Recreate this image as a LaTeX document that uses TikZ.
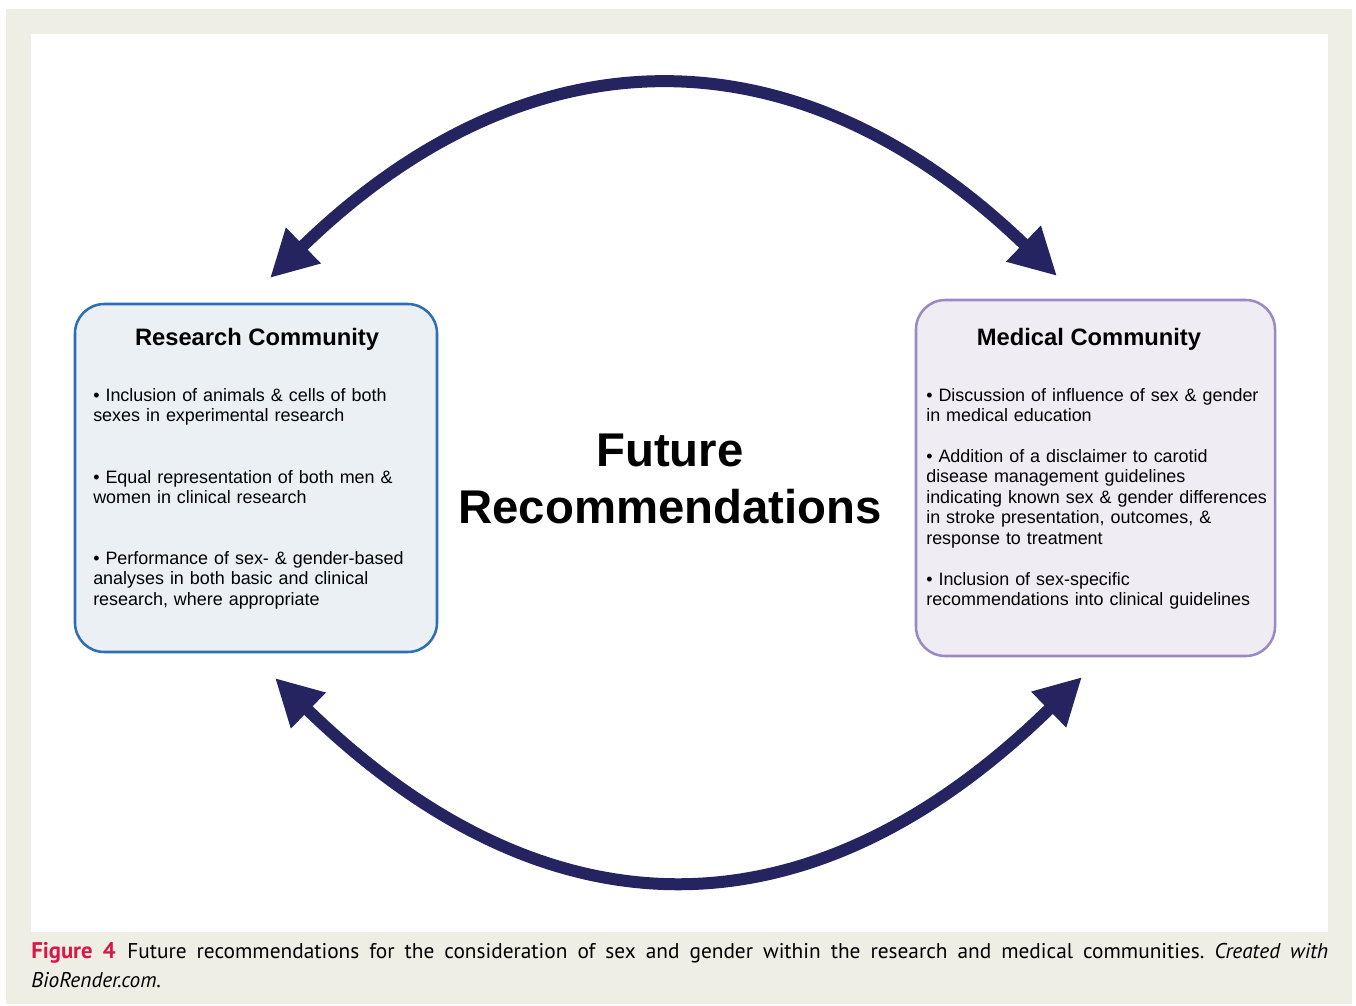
\documentclass[tikz,border=0pt]{standalone}
\usepackage{fontspec}
\setmainfont{Liberation Sans}
\newfontfamily\capfont{PT Sans}
\usetikzlibrary{arrows.meta}

\definecolor{pagebeige}{RGB}{239,238,228}
\definecolor{arrownavy}{RGB}{38,36,96}
\definecolor{resline}{RGB}{46,110,182}
\definecolor{resfill}{RGB}{235,240,244}
\definecolor{medline}{RGB}{156,136,196}
\definecolor{medfill}{RGB}{239,237,243}
\definecolor{figred}{RGB}{218,22,72}

\tikzset{
  commbox/.style={rounded corners=22pt, line width=1.9pt, inner sep=0pt},
  boxtitle/.style={font=\bfseries\fontsize{17.8}{21}\selectfont, inner sep=0pt, anchor=base},
  bullettext/.style={font=\fontsize{13.45}{15.4}\selectfont, inner sep=0pt, anchor=base west,
                     text width=270pt, align=left},
  cyclearrow/.style={line width=9pt, draw=arrownavy,
                     {Triangle[length=35pt,width=35pt]}-{Triangle[length=35pt,width=35pt]}},
}

\begin{document}
\frenchspacing
\begin{tikzpicture}[x=0.75pt,y=-0.75pt]
\useasboundingbox (0,0) rectangle (1356,1006);
% page frame and white panel
\fill[white] (0,0) rectangle (1356,1006);
\fill[pagebeige] (6,9) rectangle (1352,1004);
\fill[white] (31,34) rectangle (1328,932);

% the two community boxes
\node (res) [commbox, draw=resline, fill=resfill, minimum width=271.5pt, minimum height=261pt] at (256,478) {};
\node (med) [commbox, draw=medline, fill=medfill, minimum width=269.25pt, minimum height=267pt] at (1095.5,478) {};

% box titles
\node (restitle) [boxtitle] at (257,345) {Research Community};
\node (medtitle) [boxtitle] at (1089,345) {Medical Community};

% research community items
\node (r1) [bullettext] at (93,401) {• Inclusion of animals \& cells of both\\sexes in experimental research};
\node (r2) [bullettext] at (93,483) {• Equal representation of both men \&\\women in clinical research};
\node (r3) [bullettext] at (93,564) {• Performance of sex- \& gender-based\\analyses in both basic and clinical\\research, where appropriate};

% medical community items
\node (m1) [bullettext] at (926,401) {• Discussion of influence of sex \& gender\\in medical education};
\node (m2) [bullettext] at (926,462) {• Addition of a disclaimer to carotid\\disease management guidelines\\indicating known sex \& gender differences\\in stroke presentation, outcomes, \&\\response to treatment};
\node (m3) [bullettext] at (926,585) {• Inclusion of sex-specific\\recommendations into clinical guidelines};

% central heading
\node (centre) [font=\bfseries\fontsize{35.5}{43}\selectfont, align=center, inner sep=0pt] at (670,479)
  {Future\\Recommendations};

% arrow end points
\coordinate (topL) at (270,278);
\coordinate (topR) at (1057,276);
\coordinate (botL) at (275,678);
\coordinate (botR) at (1082,677);

% curved two-headed arrows
\draw[cyclearrow] (topL) .. controls (529,26) and (798,26) .. (topR);
\draw[cyclearrow] (botL) .. controls (547,943) and (810,943) .. (botR);

% caption
\node (cap1) [anchor=base west, inner sep=0pt, font=\capfont\fontsize{16}{20}\selectfont] at (31,958)
  {\makebox[972.75pt][s]{\textcolor{figred}{\bfseries\fontsize{17}{20}\selectfont Figure 4}\hspace{0.55em}Future recommendations for the consideration of sex and gender within the research and medical communities. \textit{Created with}}};
\node (cap2) [anchor=base west, inner sep=0pt, font=\capfont\fontsize{16}{20}\selectfont] at (31,987)
  {\textit{BioRender.com.}};
\end{tikzpicture}
\end{document}
